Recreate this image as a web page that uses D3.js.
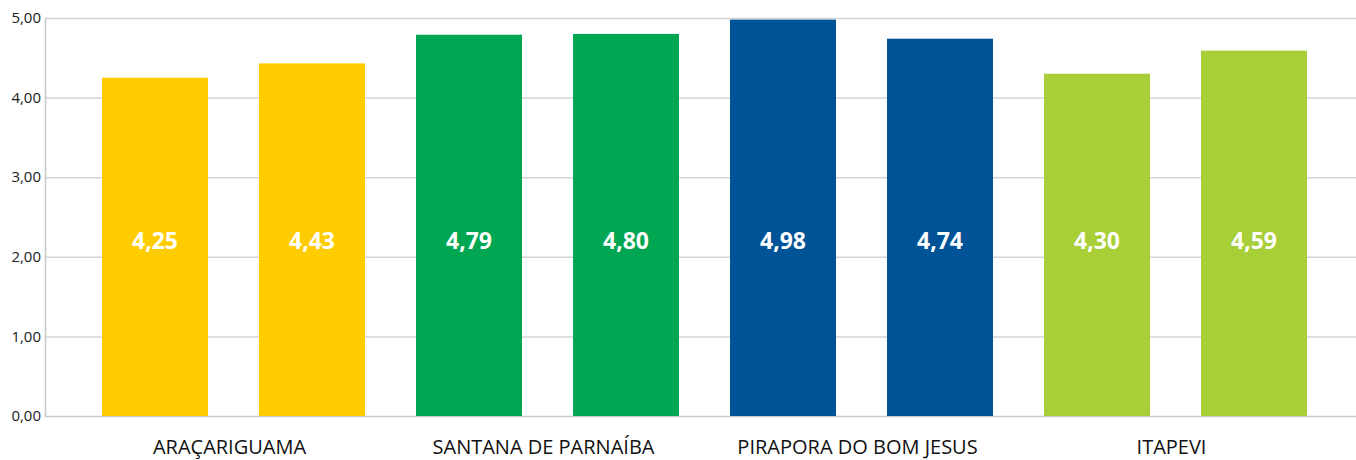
<!DOCTYPE html>
<html>
<head>
<meta charset="utf-8">
<script src="https://cdn.jsdelivr.net/npm/d3@7"></script>
<style>
    body { margin: 0; background: #fff; }
    svg { display: block; font-family: "Open Sans", "Noto Sans", sans-serif; }
</style>
</head>
<body>
<svg width="1356" height="460"></svg>
<script>
var cities = ['ARAÇARIGUAMA', 'SANTANA DE PARNAÍBA', 'PIRAPORA DO BOM JESUS', 'ITAPEVI'];
var values = [4.25, 4.43, 4.79, 4.80, 4.98, 4.74, 4.30, 4.59];
var colors = ['#FFCC00', '#00A651', '#005396', '#A8CF38'];
var yTicks = [0, 1, 2, 3, 4, 5];

var svg = d3.select('svg');
var width = 1356;
var axisX = 45;
var plotTop = 18, plotBottom = 416;

var x = d3.scaleBand()
    .domain(d3.range(values.length))
    .range([76.5, 1332.5])
    .paddingInner(0.325)
    .paddingOuter(0.1625);

var y = d3.scaleLinear().domain([0, 5]).range([plotBottom, plotTop]);

var fmt = function (d) { return d.toFixed(2).replace('.', ','); };

// grid
svg.append('g')
    .selectAll('line')
    .data(yTicks)
    .enter()
    .append('line')
    .attr('x1', axisX)
    .attr('x2', width)
    .attr('y1', function (d) { return y(d) + 0.5; })
    .attr('y2', function (d) { return y(d) + 0.5; })
    .attr('stroke', function (d) { return d === 0 ? '#c8c8c8' : '#d4d4d4'; })
    .attr('stroke-width', 1.5);

svg.append('line')
    .attr('x1', axisX + 0.5).attr('x2', axisX + 0.5)
    .attr('y1', plotTop).attr('y2', plotBottom + 1)
    .attr('stroke', '#c8c8c8')
    .attr('stroke-width', 1.5);

// y tick labels
svg.append('g')
    .selectAll('text')
    .data(yTicks)
    .enter()
    .append('text')
    .attr('x', axisX - 4)
    .attr('y', function (d) { return y(d); })
    .attr('dy', '0.35em')
    .attr('text-anchor', 'end')
    .attr('font-size', 15)
    .attr('fill', '#222')
    .text(fmt);

// bars
svg.append('g')
    .selectAll('rect')
    .data(values)
    .enter()
    .append('rect')
    .attr('x', function (d, i) { return x(i); })
    .attr('width', x.bandwidth())
    .attr('y', function (d) { return y(d); })
    .attr('height', function (d) { return y(0) - y(d); })
    .attr('fill', function (d, i) { return colors[Math.floor(i / 2)]; });

// value labels
svg.append('g')
    .selectAll('text')
    .data(values)
    .enter()
    .append('text')
    .attr('x', function (d, i) { return x(i) + x.bandwidth() / 2; })
    .attr('y', y(2.2))
    .attr('dy', '0.35em')
    .attr('text-anchor', 'middle')
    .attr('font-size', 23)
    .attr('font-weight', 'bold')
    .attr('fill', '#fff')
    .text(fmt);

// category labels
svg.append('g')
    .selectAll('text')
    .data(cities)
    .enter()
    .append('text')
    .attr('x', function (d, i) { return (x(i * 2) + x(i * 2 + 1) + x.bandwidth()) / 2 - 4; })
    .attr('y', 454)
    .attr('text-anchor', 'middle')
    .attr('font-size', 20)
    .attr('fill', '#111')
    .text(function (d) { return d; });
</script>
</body>
</html>
